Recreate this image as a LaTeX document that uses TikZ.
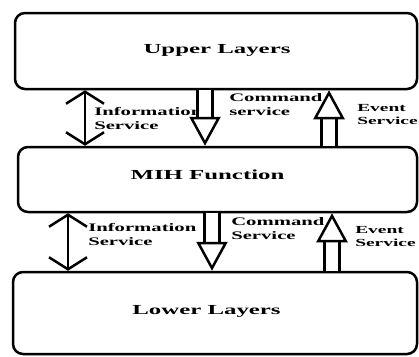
\documentclass[tikz,border=0pt]{standalone}
\usepackage{fontspec}
\setmainfont[FakeStretch=1.8]{Liberation Serif}
\usetikzlibrary{arrows.meta}

\begin{document}
\begin{tikzpicture}[x=1pt,y=-1pt,line width=2.5pt,
  LayerBox/.style={draw,rounded corners=10pt},
  LayerText/.style={font=\fontsize{13.8}{16}\selectfont\bfseries},
  ServiceText/.style={anchor=north west,inner sep=0pt,align=left,font=\fontsize{11.5}{13.5}\selectfont\bfseries},
  InfoArrow/.style={{Straight Barb[length=12pt,width=38pt]}-{Straight Barb[length=12pt,width=38pt]}},
  HollowArrow/.style={-{Triangle[length=29pt,width=31pt,line width'=2.5pt,fill=white]},double,double distance=12pt,line width=3pt}]

\useasboundingbox (0,0) rectangle (419,356);

% layers
\node[LayerBox,minimum width=402pt,minimum height=76pt,label={[LayerText,xshift=1pt,yshift=1pt]center:Upper Layers}] (UpperLayers) at (216,51) {};
\node[LayerBox,minimum width=399pt,minimum height=65pt,label={[LayerText,xshift=-10pt,yshift=4.5pt]center:MIH Function}] (MIHFunction) at (217.5,179.5) {};
\node[LayerBox,minimum width=404pt,minimum height=82pt,label={[LayerText,xshift=-8.5pt,yshift=1.5pt]center:Lower Layers}] (LowerLayers) at (215,313) {};

% upper gap
\node[ServiceText] (InfoUpText) at (93,106.5) {Information\\Service};
\node[ServiceText] (CmdUpText) at (228,92.5) {Command\\service};
\node[ServiceText,font=\fontsize{10.8}{13}\selectfont\bfseries] (EventUpText) at (356,103) {Event\\Service};

\coordinate (InfoUp) at (85,0);
\coordinate (CmdUp) at (205,0);
\coordinate (EventUp) at (329,0);

\draw[InfoArrow] (InfoUp |- UpperLayers.south) to (InfoUp |- MIHFunction.north);
\draw[HollowArrow] (CmdUp |- UpperLayers.south) to (CmdUp |- MIHFunction.north);
\draw[HollowArrow] (EventUp |- MIHFunction.north) to (EventUp |- UpperLayers.south);

% lower gap
\node[ServiceText] (InfoDownText) at (87,222.5) {Information\\Service};
\node[ServiceText] (CmdDownText) at (230,216.5) {Command\\Service};
\node[ServiceText,font=\fontsize{10.8}{13}\selectfont\bfseries] (EventDownText) at (354,225) {Event\\Service};

\coordinate (InfoDown) at (68,0);
\coordinate (CmdDown) at (212,0);
\coordinate (EventDown) at (332,0);

\draw[InfoArrow] (InfoDown |- MIHFunction.south) to (InfoDown |- LowerLayers.north);
\draw[HollowArrow] (CmdDown |- MIHFunction.south) to (CmdDown |- LowerLayers.north);
\draw[HollowArrow] (EventDown |- LowerLayers.north) to (EventDown |- MIHFunction.south);

\end{tikzpicture}
\end{document}
